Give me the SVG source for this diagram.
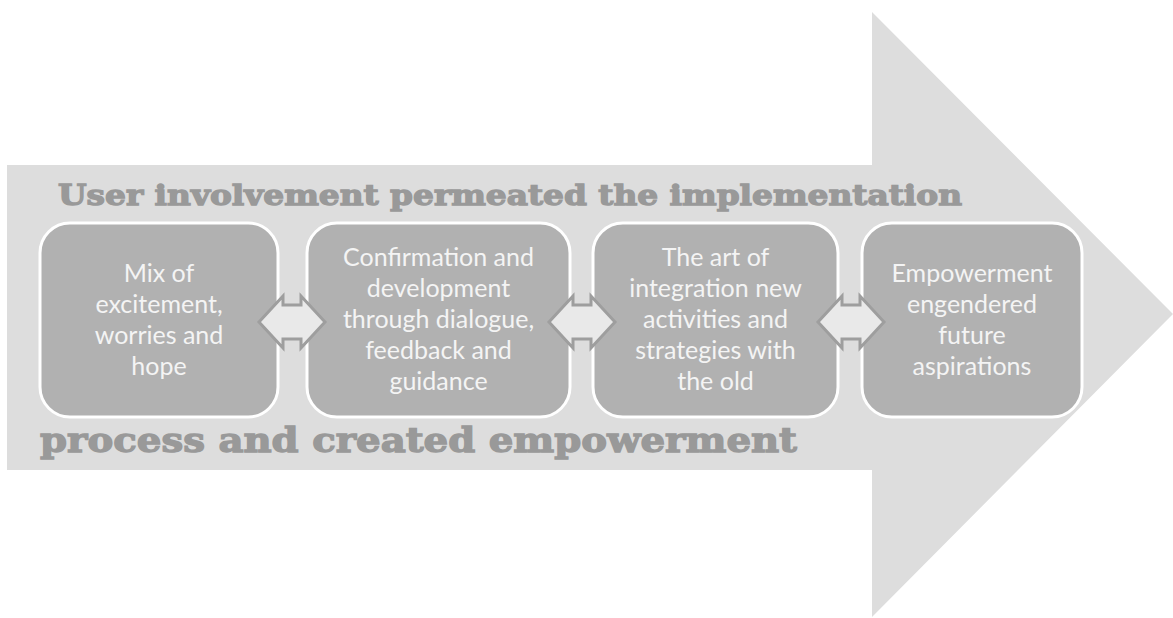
<svg xmlns="http://www.w3.org/2000/svg" width="1173" height="618" viewBox="0 0 1173 618">
<style>
.bg{fill:#dddddd}
.box{fill:#b1b1b1;stroke:#ffffff;stroke-width:3}
.lbl{font-family:Lato,"Open Sans","Liberation Sans",sans-serif;font-size:25px;fill:#f4f4f4;text-anchor:middle}
.ttl{font-family:"DejaVu Serif",serif;font-weight:bold;fill:#999999;stroke:#999999;stroke-width:1.3}
.dbl{fill:#e9e9e9;stroke:#9e9e9e;stroke-width:3;stroke-linejoin:miter}
</style>
<defs>
<path id="dbl" d="M-33,0 L-9,-26 L-9,-17 L9,-17 L9,-26 L33,0 L9,26 L9,17 L-9,17 L-9,26 Z"/>
</defs>
<g id="big-arrow">
<path class="bg" d="M7,165 L872,165 L872,12 L1173,314 L872,617 L872,470 L7,470 Z"/>
</g>
<g id="title">
<text class="ttl" x="58" y="205" font-size="28" textLength="904" lengthAdjust="spacingAndGlyphs">User involvement permeated the implementation</text>
<text class="ttl" x="40" y="452" font-size="33" textLength="757" lengthAdjust="spacingAndGlyphs">process and created empowerment</text>
</g>
<g id="node1">
<rect class="box" x="40" y="223" width="238" height="194" rx="30"/>
<text class="lbl"><tspan x="159" y="282">Mix of</tspan><tspan x="159" y="313">excitement,</tspan><tspan x="159" y="344">worries and</tspan><tspan x="159" y="375">hope</tspan></text>
</g>
<g id="node2">
<rect class="box" x="307" y="223" width="263" height="194" rx="30"/>
<text class="lbl"><tspan x="438.5" y="266">Confirmation and</tspan><tspan x="438.5" y="297">development</tspan><tspan x="438.5" y="328">through dialogue,</tspan><tspan x="438.5" y="359">feedback and</tspan><tspan x="438.5" y="390">guidance</tspan></text>
</g>
<g id="node3">
<rect class="box" x="593" y="223" width="245" height="194" rx="30"/>
<text class="lbl"><tspan x="715.5" y="266">The art of</tspan><tspan x="715.5" y="297">integration new</tspan><tspan x="715.5" y="328">activities and</tspan><tspan x="715.5" y="359">strategies with</tspan><tspan x="715.5" y="390">the old</tspan></text>
</g>
<g id="node4">
<rect class="box" x="862" y="223" width="220" height="194" rx="30"/>
<text class="lbl"><tspan x="972" y="282">Empowerment</tspan><tspan x="972" y="313">engendered</tspan><tspan x="972" y="344">future</tspan><tspan x="972" y="375">aspirations</tspan></text>
</g>
<g id="connectors">
<use href="#dbl" class="dbl" transform="translate(292,322)"/>
<use href="#dbl" class="dbl" transform="translate(582,322)"/>
<use href="#dbl" class="dbl" transform="translate(851,322)"/>
</g>
</svg>
